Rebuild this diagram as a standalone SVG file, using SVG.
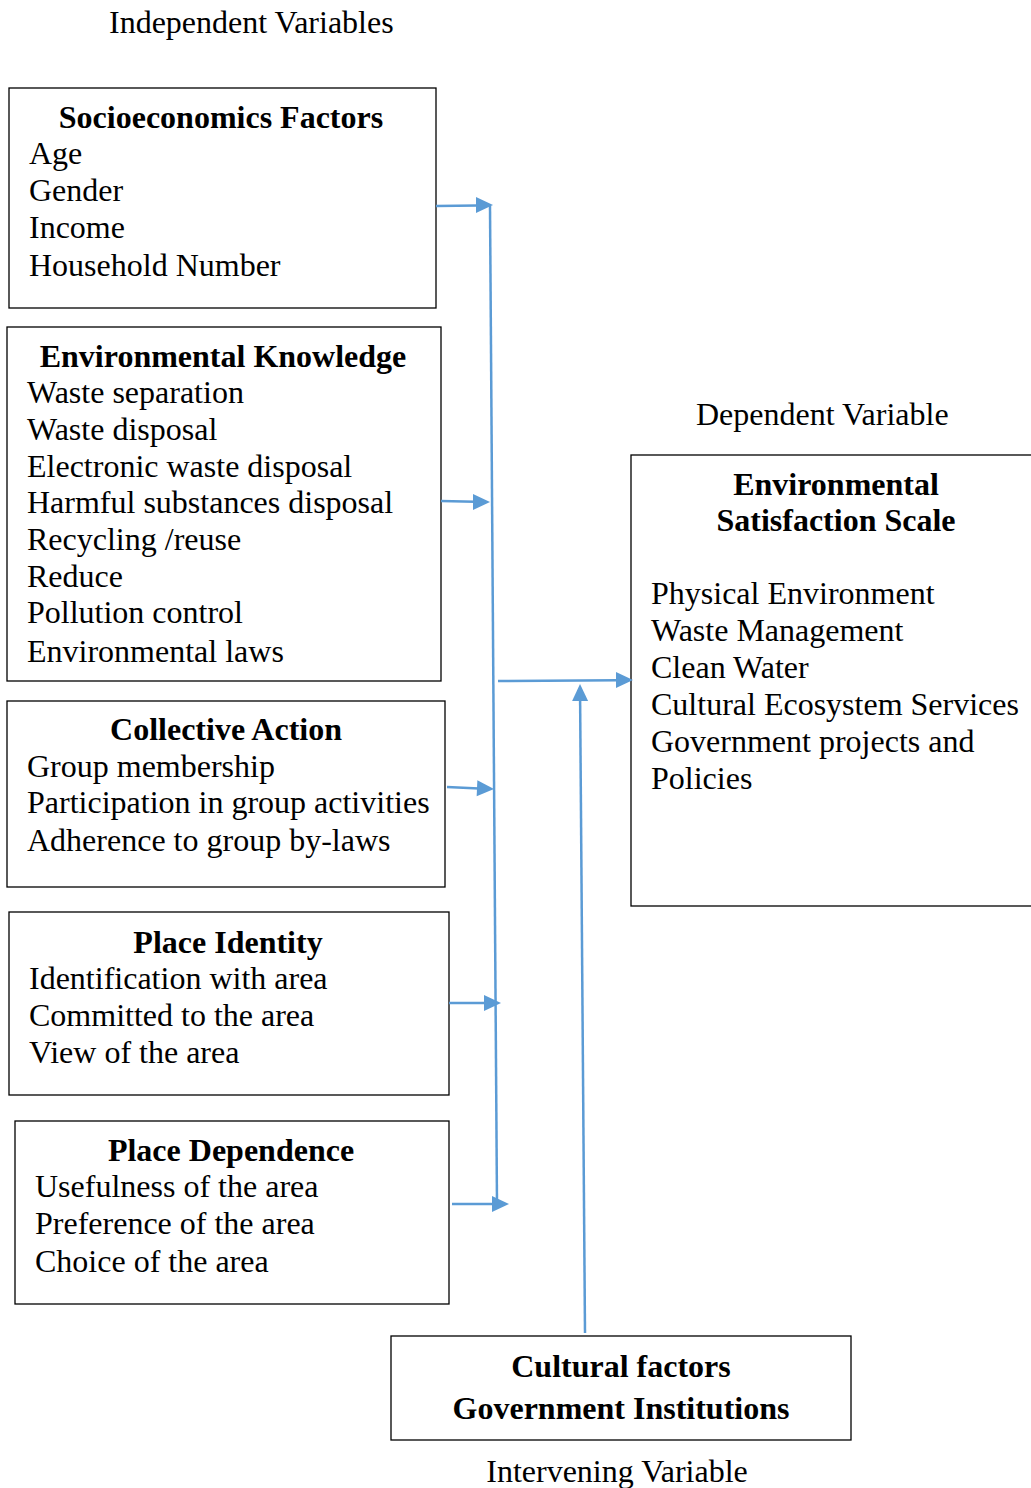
<svg xmlns="http://www.w3.org/2000/svg" width="1031" height="1488" viewBox="0 0 1031 1488">
<style>
text{font-family:"Liberation Serif","Times New Roman",serif;font-size:32px;fill:#000}
.b{font-weight:bold}
.c{text-anchor:middle}
.box{fill:#fff;stroke:#000;stroke-width:1.3}
.ln{stroke:#5B9BD5;stroke-width:2.5;fill:none}
.hd{fill:#5B9BD5}
</style>
<defs>
<path id="head" d="M0,0L-17,-8L-17,8z"/>
</defs>
<rect width="1031" height="1488" fill="#fff"/>
<text x="109" y="33">Independent Variables</text>
<text x="696" y="425">Dependent Variable</text>
<text x="617" y="1482" class="c">Intervening Variable</text>
<g id="socio">
<rect class="box" x="9" y="88" width="427" height="220"/>
<text x="221" y="128" class="b c">Socioeconomics Factors</text>
<text x="29" y="164">Age</text>
<text x="29" y="201">Gender</text>
<text x="29" y="238">Income</text>
<text x="29" y="276">Household Number</text>
</g>
<g id="envknow">
<rect class="box" x="7" y="327" width="434" height="354"/>
<text x="223" y="367" class="b c">Environmental Knowledge</text>
<text x="27" y="403">Waste separation</text>
<text x="27" y="440">Waste disposal</text>
<text x="27" y="477">Electronic waste disposal</text>
<text x="27" y="513">Harmful substances disposal</text>
<text x="27" y="550">Recycling /reuse</text>
<text x="27" y="587">Reduce</text>
<text x="27" y="623">Pollution control</text>
<text x="27" y="662">Environmental laws</text>
</g>
<g id="collective">
<rect class="box" x="7" y="701" width="438" height="186"/>
<text x="226" y="740" class="b c">Collective Action</text>
<text x="27" y="777">Group membership</text>
<text x="27" y="813">Participation in group activities</text>
<text x="27" y="851">Adherence to group by-laws</text>
</g>
<g id="placeid">
<rect class="box" x="9" y="912" width="440" height="183"/>
<text x="228" y="953" class="b c">Place Identity</text>
<text x="29" y="989">Identification with area</text>
<text x="29" y="1026">Committed to the area</text>
<text x="29" y="1063">View of the area</text>
</g>
<g id="placedep">
<rect class="box" x="15" y="1121" width="434" height="183"/>
<text x="231" y="1161" class="b c">Place Dependence</text>
<text x="35" y="1197">Usefulness of the area</text>
<text x="35" y="1234">Preference of the area</text>
<text x="35" y="1272">Choice of the area</text>
</g>
<g id="envsat">
<rect class="box" x="631" y="455" width="420" height="451"/>
<text x="836" y="495" class="b c">Environmental</text>
<text x="836" y="531" class="b c">Satisfaction Scale</text>
<text x="651" y="604">Physical Environment</text>
<text x="651" y="641">Waste Management</text>
<text x="651" y="678">Clean Water</text>
<text x="651" y="715">Cultural Ecosystem Services</text>
<text x="651" y="752">Government projects and</text>
<text x="651" y="789">Policies</text>
</g>
<g id="cultural">
<rect class="box" x="391" y="1336" width="460" height="104"/>
<text x="621" y="1377" class="b c">Cultural factors</text>
<text x="621" y="1419" class="b c">Government Institutions</text>
</g>
<g id="connectors">
<line class="ln" x1="490" y1="206" x2="497" y2="1205" stroke-width="1.5"/>
<line class="ln" x1="436" y1="206" x2="478" y2="205.5"/>
<use href="#head" class="hd" transform="translate(493,205)"/>
<line class="ln" x1="441" y1="501" x2="475" y2="501.7"/>
<use href="#head" class="hd" transform="translate(490,502)"/>
<line class="ln" x1="498" y1="681" x2="618" y2="680.2"/>
<use href="#head" class="hd" transform="translate(633,680)"/>
<line class="ln" x1="447" y1="787" x2="479" y2="788.4"/>
<use href="#head" class="hd" transform="translate(494,789) rotate(2.5)"/>
<line class="ln" x1="449" y1="1003" x2="486" y2="1003"/>
<use href="#head" class="hd" transform="translate(501,1003)"/>
<line class="ln" x1="452" y1="1204" x2="494" y2="1204"/>
<use href="#head" class="hd" transform="translate(509,1204)"/>
<line class="ln" x1="585" y1="1333" x2="580.1" y2="698"/>
<use href="#head" class="hd" transform="translate(580,684) rotate(-90.4)"/>
</g>
</svg>
